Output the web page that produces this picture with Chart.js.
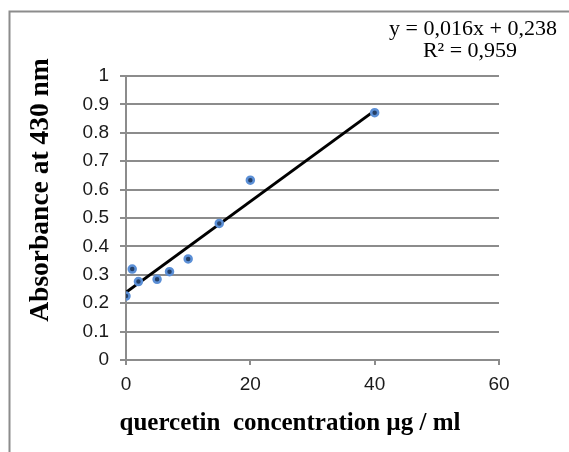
<!DOCTYPE html>
<html>
<head>
<meta charset="utf-8">
<script src="https://cdn.jsdelivr.net/npm/chart.js@4/dist/chart.umd.min.js"></script>
<style>
html, body { margin:0; padding:0; background:#fff; }
#wrap { width:569px; height:452px; }
</style>
</head>
<body>
<div id="wrap"><canvas id="graf" width="569" height="452"></canvas></div>
<script>
// measured points (quercetin standard curve)
var concentration = [0, 1, 2, 5, 7, 10, 15, 20, 40];
var absorbance = [0.225, 0.32, 0.276, 0.284, 0.311, 0.356, 0.481, 0.633, 0.871];
// linear trendline end points
var trendX = [0, 40];
var trendY = [0.238, 0.878];
var xTicks = [0, 20, 40, 60];
var yTicks = [0, 0.1, 0.2, 0.3, 0.4, 0.5, 0.6, 0.7, 0.8, 0.9, 1];
var equation = ["y = 0,016x + 0,238", "R² = 0,959"];
var xTitle = "quercetin  concentration µg / ml";
var yTitle = "Absorbance at 430 nm";

var gridColor = '#8c8c8c';

var points = concentration.map(function(x, i){ return {x:x, y:absorbance[i]}; });
var trend = trendX.map(function(x, i){ return {x:x, y:trendY[i]}; });

var textPlugin = {
    id: 'texts',
    afterDraw: function(chart){
        var ctx = chart.ctx;
        ctx.save();
        // outer frame of the chart object
        ctx.strokeStyle = gridColor;
        ctx.lineWidth = 2;
        ctx.strokeRect(9.5, 11.5, 700, 600);

        ctx.fillStyle = '#000';
        ctx.textAlign = 'center';
        ctx.textBaseline = 'alphabetic';
        ctx.font = '22px "Liberation Serif"';
        ctx.fillText(equation[0], 473, 35);
        ctx.fillText(equation[1], 470, 57);

        ctx.font = 'bold 25px "Liberation Serif"';
        ctx.fillText(xTitle, 290, 430);

        ctx.translate(48, 190);
        ctx.rotate(-Math.PI/2);
        ctx.font = 'bold 27.5px "Liberation Serif"';
        ctx.fillText(yTitle, 0, 0);
        ctx.restore();
    }
};

new Chart(document.getElementById('graf'), {
    type: 'scatter',
    data: {
        datasets: [{
            label: 'measured',
            data: points,
            pointRadius: 3.5,
            pointBorderWidth: 2.5,
            pointBackgroundColor: '#243f66',
            pointBorderColor: '#5b8fd6',
            order: 0
        }, {
            type: 'line',
            label: 'trend',
            data: trend,
            borderColor: '#000',
            borderWidth: 3,
            pointRadius: 0,
            fill: false,
            order: 1
        }]
    },
    options: {
        responsive: false,
        animation: false,
        layout: { padding: { top: 76, right: 70, left: 0, bottom: 0 } },
        plugins: {
            legend: { display: false },
            tooltip: { enabled: false }
        },
        scales: {
            x: {
                type: 'linear',
                min: 0,
                max: 60,
                afterBuildTicks: function(s){ s.ticks = xTicks.map(function(v){ return {value:v}; }); },
                ticks: {
                    color: '#1a1a1a',
                    padding: 8,
                    maxRotation: 0,
                    font: { family: '"Liberation Sans"', size: 19 }
                },
                grid: { drawOnChartArea: false, tickLength: 5, color: gridColor, lineWidth: 2 },
                border: { color: gridColor, width: 2 },
                afterFit: function(s){ s.height = 92; }
            },
            y: {
                min: 0,
                max: 1,
                afterBuildTicks: function(s){ s.ticks = yTicks.map(function(v){ return {value:v}; }); },
                ticks: {
                    color: '#1a1a1a',
                    padding: 11,
                    font: { family: '"Liberation Sans"', size: 19 },
                    callback: function(v){ return String(Number(v.toFixed(1))); }
                },
                grid: { tickLength: 6, color: gridColor, lineWidth: 2 },
                border: { color: gridColor, width: 2 },
                afterFit: function(s){ s.width = 126; }
            }
        }
    },
    plugins: [textPlugin]
});
</script>
</body>
</html>
